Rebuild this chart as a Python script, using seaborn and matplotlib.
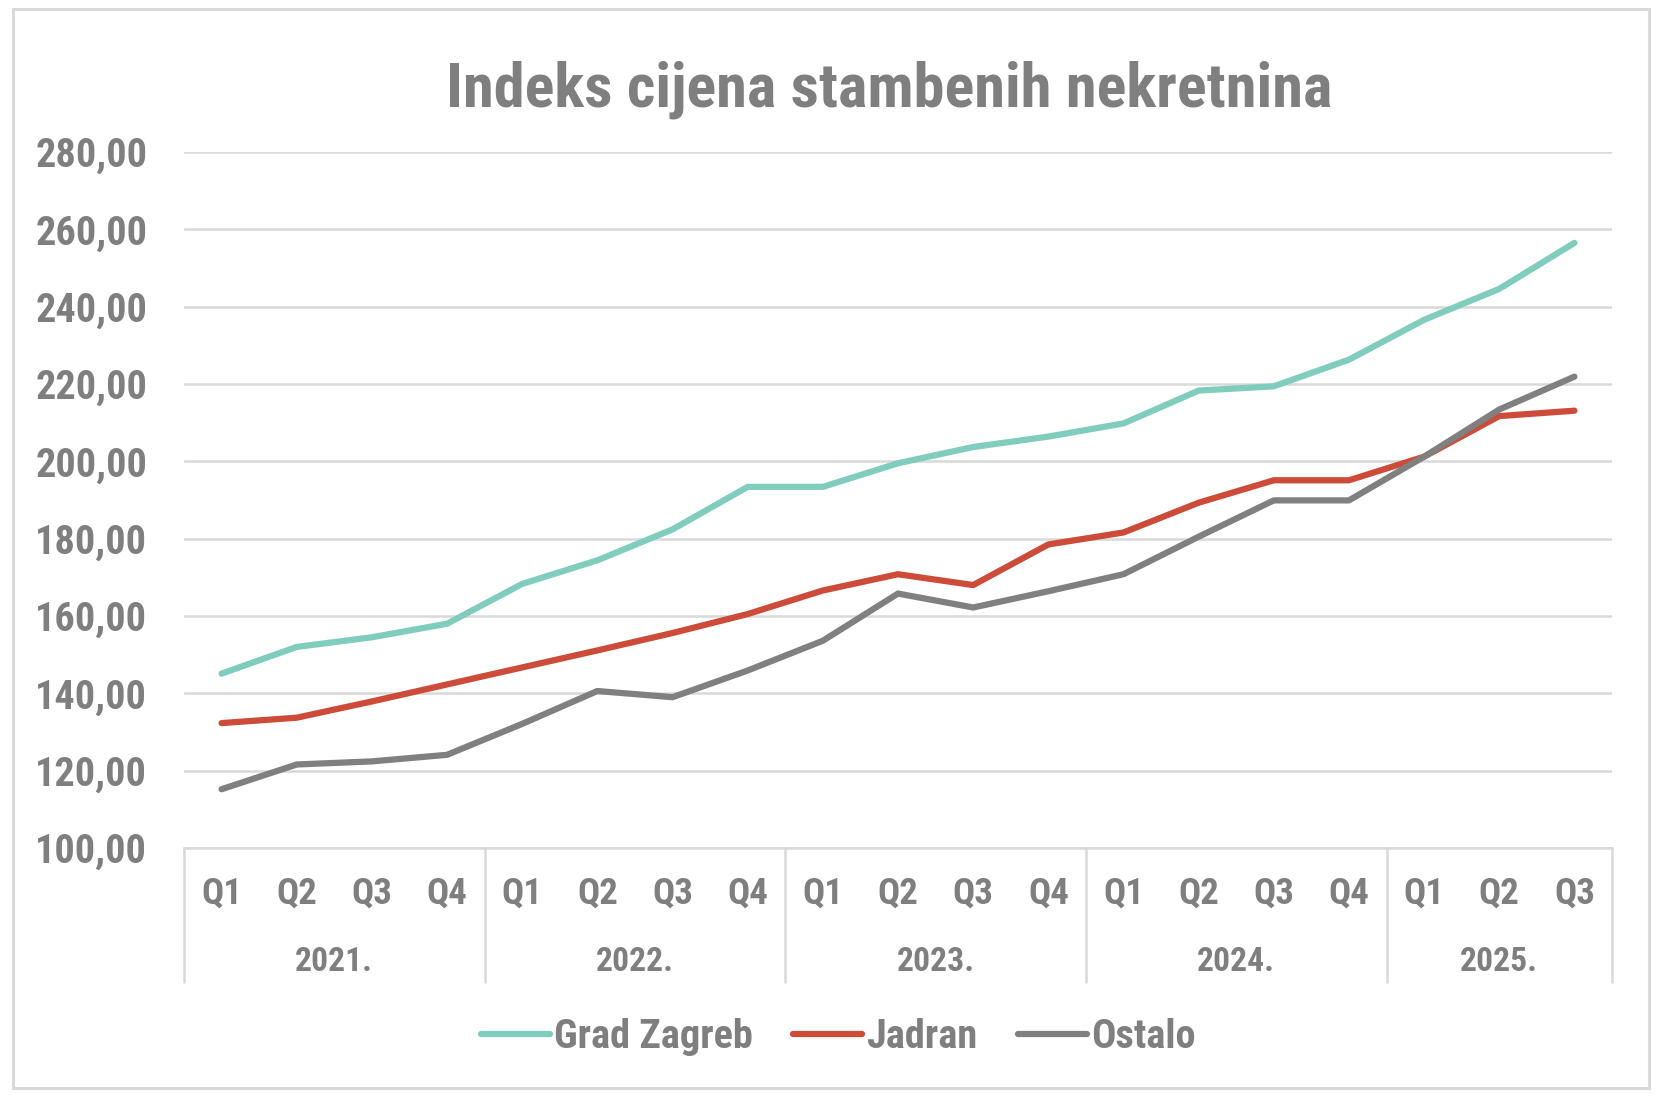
import matplotlib
matplotlib.use('Agg')
import matplotlib.pyplot as plt
import seaborn as sns
import pandas as pd
from matplotlib.patches import Rectangle
from matplotlib.lines import Line2D
from matplotlib.ticker import FuncFormatter

# ---- data ----
years = ['2021.', '2022.', '2023.', '2024.', '2025.']
quarters_per_year = [4, 4, 4, 4, 3]
quarter_labels = ['Q1', 'Q2', 'Q3', 'Q4'] * 4 + ['Q1', 'Q2', 'Q3']
series_names = ['Grad Zagreb', 'Jadran', 'Ostalo']
grad_zagreb = [145.1, 152.0, 154.5, 158.0, 168.3, 174.4, 182.4, 193.4, 193.4, 199.5,
               203.7, 206.4, 209.8, 218.3, 219.4, 226.3, 236.6, 244.6, 256.5]
jadran = [132.3, 133.7, 137.9, 142.3, 146.7, 151.1, 155.6, 160.5, 166.6, 170.8,
          168.0, 178.5, 181.6, 189.3, 195.1, 195.1, 201.2, 211.7, 213.1]
ostalo = [115.2, 121.6, 122.4, 124.1, 132.1, 140.6, 139.0, 145.9, 153.6, 165.8,
          162.2, 166.4, 170.8, 180.5, 189.9, 189.9, 201.2, 213.4, 221.9]
colors = ['#80CDBE', '#CC4B39', '#808080']
title = 'Indeks cijena stambenih nekretnina'

TEXT = '#7f7f7f'
GRID = '#d9d9d9'

sns.set_theme(style='white')
plt.rcParams['font.family'] = ['Roboto Condensed', 'Roboto', 'DejaVu Sans']
plt.rcParams['font.weight'] = 'bold'

W, H = 1676, 1106
fig = plt.figure(figsize=(W / 100, H / 100), dpi=100)
fig.patch.set_facecolor('white')
renderer = fig.canvas.get_renderer()


def fit_size(text, target_px, ref=100):
    t = fig.text(0, 0, text, fontsize=ref, fontweight='bold')
    w = t.get_window_extent(renderer).width
    t.remove()
    return ref * target_px / w


fs_title = fit_size(title, 886)
fs_tick = fit_size('280,00', 112)
fs_q = fit_size('Q1', 41)
fs_year = fit_size('2021.', 78)
fs_leg = fit_size('Grad Zagreb', 199)

# outer border
fig.patches.append(Rectangle((13 / W, 18 / H), 1636 / W, 1079 / H, transform=fig.transFigure,
                             fill=False, edgecolor=GRID, linewidth=2.2, zorder=0))

ax_left, ax_right, ax_top, ax_bot = 184, 1612, 152, 848
ax = fig.add_axes([ax_left / W, 1 - ax_bot / H, (ax_right - ax_left) / W, (ax_bot - ax_top) / H])

n = len(quarter_labels)
idx = list(range(n))
df = pd.DataFrame({
    'idx': idx * 3,
    'value': grad_zagreb + jadran + ostalo,
    'series': [s for s in series_names for _ in range(n)],
})

sns.lineplot(data=df, x='idx', y='value', hue='series', hue_order=series_names,
             palette=colors, linewidth=4.5, ax=ax, legend=False,
             solid_capstyle='round', solid_joinstyle='round', zorder=3)

ax.set_xlim(-0.5, n - 0.5)
ax.set_ylim(100, 280)
ax.set_yticks(range(100, 281, 20))
ax.yaxis.set_major_formatter(FuncFormatter(lambda v, p: f'{v:.2f}'.replace('.', ',')))
ax.grid(False)
ax.yaxis.grid(True, color=GRID, linewidth=1.8)
ax.set_axisbelow(True)
for s in ['left', 'right', 'top']:
    ax.spines[s].set_visible(False)
ax.spines['bottom'].set_color(GRID)
ax.spines['bottom'].set_linewidth(1.8)
ax.tick_params(axis='y', length=0, pad=26.5, labelsize=fs_tick, labelcolor=TEXT)
for lab in ax.get_yticklabels():
    lab.set_fontweight('bold')
ax.set_xticks([])
ax.set_xlabel('')
ax.set_ylabel('')

trans = ax.get_xaxis_transform()
axh = ax_bot - ax_top
q_y = -(894 - ax_bot) / axh
yr_y = -(962 - ax_bot) / axh
sep_y = -(982 - ax_bot) / axh

for i, q in enumerate(quarter_labels):
    ax.text(i, q_y, q, transform=trans, ha='center', va='center', fontsize=fs_q,
            color=TEXT, fontweight='bold')

start = 0
bounds = [-0.5]
for yr, cnt in zip(years, quarters_per_year):
    center = start + (cnt - 1) / 2
    ax.text(center, yr_y, yr, transform=trans, ha='center', va='center', fontsize=fs_year,
            color=TEXT, fontweight='bold')
    start += cnt
    bounds.append(start - 0.5)
for b in bounds:
    ax.add_line(Line2D([b, b], [0, sep_y], transform=trans, color=GRID, linewidth=1.8,
                       clip_on=False))

fig.text(889 / W, 1 - 90 / H, title, ha='center', va='center',
         fontsize=fs_title, color=TEXT, fontweight='bold')

handles = [Line2D([0], [0], color=c, linewidth=4.5, solid_capstyle='round') for c in colors]
leg = fig.legend(handles, series_names, loc='center', bbox_to_anchor=(838 / W, 1 - 1037 / H),
                 ncol=3, frameon=False, fontsize=fs_leg, handlelength=69 / (fs_leg * 100 / 72),
                 handletextpad=0.1, columnspacing=1.0, borderaxespad=0)
for t in leg.get_texts():
    t.set_color(TEXT)
    t.set_fontweight('bold')

fig.savefig('out.png', dpi=100)
